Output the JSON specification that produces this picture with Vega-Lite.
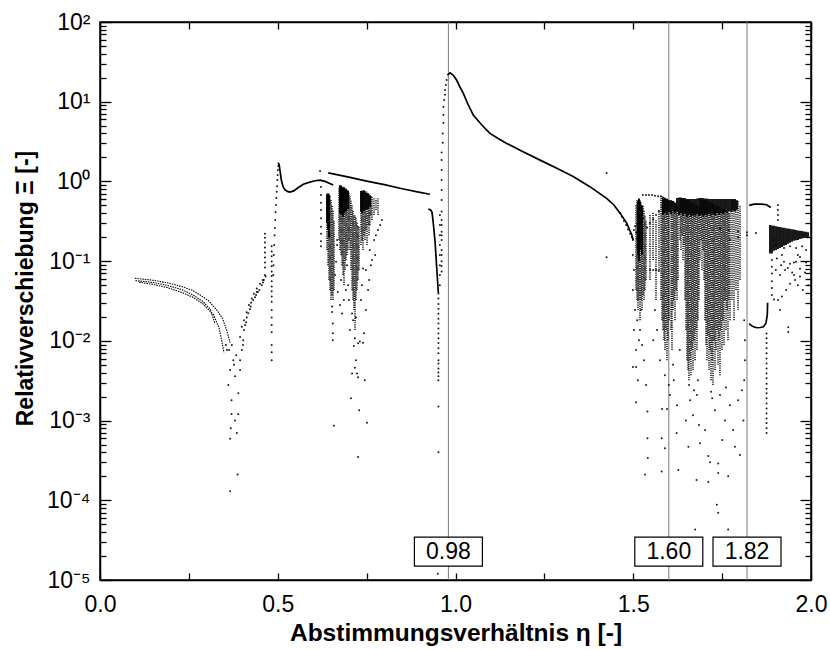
{
"$schema":"https://vega.github.io/schema/vega-lite/v6.json",
"width":711,"height":558,
"autosize":{"type":"none"},
"padding":{"left":100,"top":22,"right":19,"bottom":70},
"background":"white",
"config":{"view":{"stroke":"black","strokeWidth":1.5},
"axis":{"labelFont":"Liberation Sans","labelFontSize":23,"labelColor":"black","titleFont":"Liberation Sans","titleFontSize":23,"titleFontWeight":"bold","titleColor":"black","domainColor":"black","domainWidth":1.5,"tickColor":"black","tickWidth":1.3,"grid":false,"labelOverlap":false,"labelFlush":false}},
"datasets":{
"curves":[
{"b":"a","e":0.501,"s":1.72},{"b":"a","e":0.504,"s":1.62},{"b":"a","e":0.507,"s":1.3},{"b":"a","e":0.51,"s":1.05},{"b":"a","e":0.515,"s":0.86},{"b":"a","e":0.52,"s":0.79},{"b":"a","e":0.527,"s":0.75},{"b":"a","e":0.534,"s":0.735},{"b":"a","e":0.545,"s":0.76},{"b":"a","e":0.558,"s":0.84},{"b":"a","e":0.572,"s":0.92},{"b":"a","e":0.59,"s":0.98},{"b":"a","e":0.605,"s":1.02},{"b":"a","e":0.619,"s":1.04},{"b":"a","e":0.633,"s":1.0},{"b":"a","e":0.645,"s":0.95},{"b":"a","e":0.656,"s":0.9},
{"b":"b","e":0.642,"s":1.28},{"b":"b","e":0.7,"s":1.13},{"b":"b","e":0.75,"s":1.01},{"b":"b","e":0.8,"s":0.91},{"b":"b","e":0.85,"s":0.81},{"b":"b","e":0.9,"s":0.73},{"b":"b","e":0.928,"s":0.69},
{"b":"c","e":0.977,"s":21.6},{"b":"c","e":0.985,"s":23.1},{"b":"c","e":0.994,"s":21.5},{"b":"c","e":1.003,"s":18.7},{"b":"c","e":1.012,"s":15.5},{"b":"c","e":1.022,"s":12.7},{"b":"c","e":1.036,"s":9.1},{"b":"c","e":1.05,"s":6.8},{"b":"c","e":1.074,"s":5.1},{"b":"c","e":1.097,"s":4.0},{"b":"c","e":1.12,"s":3.45},{"b":"c","e":1.144,"s":3.0},{"b":"c","e":1.19,"s":2.36},{"b":"c","e":1.238,"s":1.85},{"b":"c","e":1.285,"s":1.46},{"b":"c","e":1.331,"s":1.15},{"b":"c","e":1.378,"s":0.86},{"b":"c","e":1.425,"s":0.614},{"b":"c","e":1.445,"s":0.51},{"b":"c","e":1.463,"s":0.4},{"b":"c","e":1.4815,"s":0.3},{"b":"c","e":1.496,"s":0.213},{"b":"c","e":1.5,"s":0.184},
{"b":"d","e":0.9235,"s":0.45},{"b":"d","e":0.93,"s":0.44},{"b":"d","e":0.934,"s":0.41},{"b":"d","e":0.9375,"s":0.3},{"b":"d","e":0.9423,"s":0.18},{"b":"d","e":0.947,"s":0.085},{"b":"d","e":0.9517,"s":0.04},
{"b":"e","e":1.826,"s":0.0165},{"b":"e","e":1.835,"s":0.0152},{"b":"e","e":1.847,"s":0.0146},{"b":"e","e":1.858,"s":0.0147},{"b":"e","e":1.866,"s":0.015},{"b":"e","e":1.873,"s":0.0165},{"b":"e","e":1.877,"s":0.021},{"b":"e","e":1.878,"s":0.03},
{"b":"f","e":1.826,"s":0.5},{"b":"f","e":1.84,"s":0.52},{"b":"f","e":1.86,"s":0.52},{"b":"f","e":1.875,"s":0.51},{"b":"f","e":1.887,"s":0.47}
],
"bands":[
{"b":"g1","e":0.098,"s":0.061},{"b":"g1","e":0.15,"s":0.0575},{"b":"g1","e":0.19,"s":0.0535},{"b":"g1","e":0.23,"s":0.048},{"b":"g1","e":0.26,"s":0.043},{"b":"g1","e":0.28,"s":0.038},{"b":"g1","e":0.305,"s":0.032},{"b":"g1","e":0.328,"s":0.0245},{"b":"g1","e":0.345,"s":0.019},{"b":"g1","e":0.356,"s":0.0137},{"b":"g1","e":0.366,"s":0.0095},
{"b":"g2","e":0.1,"s":0.057},{"b":"g2","e":0.15,"s":0.054},{"b":"g2","e":0.19,"s":0.0495},{"b":"g2","e":0.23,"s":0.044},{"b":"g2","e":0.26,"s":0.038},{"b":"g2","e":0.29,"s":0.031},{"b":"g2","e":0.31,"s":0.025},{"b":"g2","e":0.3235,"s":0.0165},
{"b":"g3","e":0.11,"s":0.0545},{"b":"g3","e":0.15,"s":0.051},{"b":"g3","e":0.19,"s":0.0465},{"b":"g3","e":0.23,"s":0.0405},{"b":"g3","e":0.26,"s":0.0355},{"b":"g3","e":0.29,"s":0.029},{"b":"g3","e":0.32,"s":0.021},{"b":"g3","e":0.335,"s":0.0145},{"b":"g3","e":0.349,"s":0.0071}
],
"streaks":[
{"e":0.6385,"lo":0.138,"hi":0.70},{"e":0.6414,"lo":0.089,"hi":0.72},{"e":0.6442,"lo":0.058,"hi":0.70},{"e":0.647,"lo":0.0434,"hi":0.675},{"e":0.6498,"lo":0.0325,"hi":0.585},{"e":0.6526,"lo":0.0376,"hi":0.506},{"e":0.6554,"lo":0.0325,"hi":0.438},{"e":0.6582,"lo":0.0434,"hi":0.328},
{"e":0.6723,"lo":0.184,"hi":0.85},{"e":0.6751,"lo":0.138,"hi":0.9},{"e":0.6779,"lo":0.119,"hi":0.9},{"e":0.6807,"lo":0.089,"hi":0.87},{"e":0.6835,"lo":0.067,"hi":0.85},{"e":0.6864,"lo":0.05,"hi":0.85},{"e":0.6892,"lo":0.0773,"hi":0.82},{"e":0.692,"lo":0.103,"hi":0.82},{"e":0.6948,"lo":0.119,"hi":0.8},{"e":0.6976,"lo":0.138,"hi":0.78},{"e":0.7004,"lo":0.184,"hi":0.74},
{"e":0.7032,"lo":0.138,"hi":0.65},{"e":0.706,"lo":0.0773,"hi":0.585},{"e":0.7089,"lo":0.0434,"hi":0.506},{"e":0.7117,"lo":0.0325,"hi":0.438},{"e":0.7145,"lo":0.0243,"hi":0.379},{"e":0.7173,"lo":0.0137,"hi":0.379},{"e":0.7201,"lo":0.0325,"hi":0.35},{"e":0.7229,"lo":0.0434,"hi":0.31},{"e":0.7257,"lo":0.058,"hi":0.284},{"e":0.7286,"lo":0.0773,"hi":0.275},
{"e":0.7342,"lo":0.159,"hi":0.78},{"e":0.737,"lo":0.184,"hi":0.78},{"e":0.7398,"lo":0.138,"hi":0.76},{"e":0.7426,"lo":0.212,"hi":0.78},{"e":0.7454,"lo":0.184,"hi":0.76},{"e":0.7482,"lo":0.245,"hi":0.74},{"e":0.7511,"lo":0.159,"hi":0.74},{"e":0.7539,"lo":0.284,"hi":0.72},{"e":0.7567,"lo":0.212,"hi":0.7},{"e":0.7595,"lo":0.284,"hi":0.675},{"e":0.7623,"lo":0.379,"hi":0.65},{"e":0.7651,"lo":0.328,"hi":0.65},{"e":0.7707,"lo":0.379,"hi":0.63},{"e":0.7764,"lo":0.438,"hi":0.61},{"e":0.782,"lo":0.379,"hi":0.61},
{"e":1.5077,"lo":0.0434,"hi":0.506},{"e":1.5105,"lo":0.0325,"hi":0.585},{"e":1.5134,"lo":0.0243,"hi":0.585},{"e":1.5162,"lo":0.0325,"hi":0.62},{"e":1.519,"lo":0.0182,"hi":0.585},{"e":1.5218,"lo":0.0325,"hi":0.55},{"e":1.5246,"lo":0.0243,"hi":0.506},{"e":1.5274,"lo":0.0376,"hi":0.506},{"e":1.5302,"lo":0.0325,"hi":0.438},{"e":1.533,"lo":0.0434,"hi":0.379},{"e":1.5359,"lo":0.058,"hi":0.328},
{"e":1.5471,"lo":0.058,"hi":0.379},{"e":1.5556,"lo":0.103,"hi":0.41},{"e":1.564,"lo":0.0325,"hi":0.328},{"e":1.5724,"lo":0.0773,"hi":0.438},
{"e":1.578,"lo":0.0325,"hi":0.63},{"e":1.5809,"lo":0.0182,"hi":0.65},{"e":1.5837,"lo":0.0137,"hi":0.65},{"e":1.5865,"lo":0.0102,"hi":0.63},{"e":1.5893,"lo":0.0077,"hi":0.63},{"e":1.5921,"lo":0.0137,"hi":0.61},{"e":1.5949,"lo":0.0057,"hi":0.61},{"e":1.5977,"lo":0.0102,"hi":0.6},{"e":1.6006,"lo":0.0182,"hi":0.585},{"e":1.6062,"lo":0.0137,"hi":0.585},{"e":1.609,"lo":0.0077,"hi":0.585},{"e":1.6118,"lo":0.0243,"hi":0.57},{"e":1.6146,"lo":0.0325,"hi":0.55},{"e":1.6174,"lo":0.0182,"hi":0.54},{"e":1.6203,"lo":0.0434,"hi":0.53},{"e":1.6231,"lo":0.0325,"hi":0.506},{"e":1.6259,"lo":0.058,"hi":0.49},
{"e":1.6315,"lo":0.184,"hi":0.61},{"e":1.6343,"lo":0.138,"hi":0.61},{"e":1.6371,"lo":0.212,"hi":0.6},{"e":1.64,"lo":0.103,"hi":0.6},{"e":1.6428,"lo":0.159,"hi":0.6},
{"e":1.6456,"lo":0.0325,"hi":0.585},{"e":1.6484,"lo":0.0137,"hi":0.585},{"e":1.6512,"lo":0.0057,"hi":0.585},{"e":1.654,"lo":0.0043,"hi":0.585},{"e":1.6568,"lo":0.0032,"hi":0.57},{"e":1.6596,"lo":0.0057,"hi":0.57},{"e":1.6624,"lo":0.0037,"hi":0.55},{"e":1.6653,"lo":0.0077,"hi":0.55},{"e":1.6681,"lo":0.0043,"hi":0.54},{"e":1.6709,"lo":0.0102,"hi":0.54},{"e":1.6737,"lo":0.0057,"hi":0.53},{"e":1.6765,"lo":0.0137,"hi":0.506},{"e":1.6793,"lo":0.0077,"hi":0.506},{"e":1.6821,"lo":0.0182,"hi":0.49},{"e":1.685,"lo":0.0325,"hi":0.49},
{"e":1.6878,"lo":0.103,"hi":0.6},{"e":1.6906,"lo":0.184,"hi":0.6},{"e":1.6934,"lo":0.0773,"hi":0.585},{"e":1.6962,"lo":0.138,"hi":0.585},{"e":1.699,"lo":0.058,"hi":0.585},
{"e":1.7018,"lo":0.0182,"hi":0.585},{"e":1.7046,"lo":0.0089,"hi":0.585},{"e":1.7075,"lo":0.0057,"hi":0.57},{"e":1.7103,"lo":0.0118,"hi":0.57},{"e":1.7131,"lo":0.0043,"hi":0.55},{"e":1.7159,"lo":0.0077,"hi":0.55},{"e":1.7187,"lo":0.0032,"hi":0.54},{"e":1.7215,"lo":0.0057,"hi":0.54},{"e":1.7243,"lo":0.0028,"hi":0.53},{"e":1.7271,"lo":0.0102,"hi":0.53},{"e":1.73,"lo":0.0043,"hi":0.506},{"e":1.7328,"lo":0.0077,"hi":0.506},{"e":1.7356,"lo":0.0137,"hi":0.49},{"e":1.7384,"lo":0.005,"hi":0.49},{"e":1.7412,"lo":0.0102,"hi":0.475},{"e":1.744,"lo":0.0037,"hi":0.475},{"e":1.7468,"lo":0.0137,"hi":0.46},{"e":1.7496,"lo":0.0077,"hi":0.46},{"e":1.7525,"lo":0.0182,"hi":0.45},{"e":1.7553,"lo":0.0089,"hi":0.45},{"e":1.7581,"lo":0.0325,"hi":0.438},{"e":1.7609,"lo":0.0137,"hi":0.438},{"e":1.7637,"lo":0.0243,"hi":0.425},{"e":1.7665,"lo":0.0102,"hi":0.425},{"e":1.7693,"lo":0.0325,"hi":0.41},{"e":1.7722,"lo":0.0182,"hi":0.41},
{"e":1.7778,"lo":0.0325,"hi":0.585},{"e":1.7834,"lo":0.0182,"hi":0.585},{"e":1.789,"lo":0.0434,"hi":0.585},{"e":1.7947,"lo":0.0243,"hi":0.585},{"e":1.8003,"lo":0.058,"hi":0.506}
],
"dense":[
{"e":0.6385,"lo":0.3,"hi":0.68},{"e":0.6414,"lo":0.25,"hi":0.7},{"e":0.6442,"lo":0.2,"hi":0.68},
{"e":0.6751,"lo":0.4,"hi":0.88},{"e":0.6779,"lo":0.38,"hi":0.88},{"e":0.6807,"lo":0.4,"hi":0.86},{"e":0.6835,"lo":0.36,"hi":0.84},{"e":0.6864,"lo":0.4,"hi":0.84},{"e":0.692,"lo":0.42,"hi":0.8},{"e":0.6976,"lo":0.45,"hi":0.76},
{"e":0.7342,"lo":0.42,"hi":0.76},{"e":0.737,"lo":0.4,"hi":0.76},{"e":0.7426,"lo":0.42,"hi":0.76},{"e":0.7482,"lo":0.44,"hi":0.72},{"e":0.7539,"lo":0.45,"hi":0.7},{"e":0.7595,"lo":0.48,"hi":0.66},
{"e":1.5134,"lo":0.12,"hi":0.56},{"e":1.5162,"lo":0.1,"hi":0.6},{"e":1.519,"lo":0.14,"hi":0.56},{"e":1.5246,"lo":0.12,"hi":0.5},
{"e":1.5837,"lo":0.38,"hi":0.63},{"e":1.5893,"lo":0.4,"hi":0.62},{"e":1.5949,"lo":0.38,"hi":0.6},{"e":1.6006,"lo":0.41,"hi":0.58},{"e":1.6062,"lo":0.39,"hi":0.58},{"e":1.6118,"lo":0.42,"hi":0.57},{"e":1.6174,"lo":0.4,"hi":0.54},{"e":1.6231,"lo":0.42,"hi":0.62},{"e":1.6287,"lo":0.38,"hi":0.63},{"e":1.6343,"lo":0.4,"hi":0.63},{"e":1.64,"lo":0.37,"hi":0.62},{"e":1.6456,"lo":0.39,"hi":0.62},{"e":1.6512,"lo":0.36,"hi":0.6},{"e":1.6568,"lo":0.38,"hi":0.6},{"e":1.6624,"lo":0.36,"hi":0.6},{"e":1.6681,"lo":0.38,"hi":0.6},{"e":1.6737,"lo":0.37,"hi":0.6},{"e":1.6793,"lo":0.39,"hi":0.61},{"e":1.685,"lo":0.37,"hi":0.62},{"e":1.6906,"lo":0.38,"hi":0.62},{"e":1.6962,"lo":0.36,"hi":0.62},{"e":1.7018,"lo":0.38,"hi":0.61},{"e":1.7075,"lo":0.37,"hi":0.61},{"e":1.7131,"lo":0.39,"hi":0.6},{"e":1.7187,"lo":0.37,"hi":0.6},{"e":1.7243,"lo":0.39,"hi":0.6},{"e":1.73,"lo":0.38,"hi":0.6},{"e":1.7356,"lo":0.4,"hi":0.6},{"e":1.7412,"lo":0.38,"hi":0.6},{"e":1.7468,"lo":0.4,"hi":0.6},{"e":1.7525,"lo":0.39,"hi":0.6},{"e":1.7581,"lo":0.41,"hi":0.6},{"e":1.7637,"lo":0.4,"hi":0.6},{"e":1.7693,"lo":0.42,"hi":0.6},{"e":1.775,"lo":0.41,"hi":0.6},{"e":1.7806,"lo":0.43,"hi":0.6},{"e":1.7862,"lo":0.42,"hi":0.6},{"e":1.7918,"lo":0.44,"hi":0.58},
{"e":1.8847,"lo":0.125,"hi":0.284},{"e":1.8903,"lo":0.13,"hi":0.28},{"e":1.8959,"lo":0.135,"hi":0.277},{"e":1.9016,"lo":0.138,"hi":0.274},{"e":1.9072,"lo":0.142,"hi":0.27},{"e":1.9128,"lo":0.146,"hi":0.268},{"e":1.9184,"lo":0.151,"hi":0.265},{"e":1.924,"lo":0.156,"hi":0.262},{"e":1.9297,"lo":0.159,"hi":0.259},{"e":1.9353,"lo":0.165,"hi":0.257},{"e":1.9409,"lo":0.17,"hi":0.254},{"e":1.9466,"lo":0.175,"hi":0.251},{"e":1.9522,"lo":0.18,"hi":0.249},{"e":1.9578,"lo":0.183,"hi":0.246},{"e":1.9634,"lo":0.184,"hi":0.243},{"e":1.969,"lo":0.19,"hi":0.241},{"e":1.9747,"lo":0.193,"hi":0.238},{"e":1.9803,"lo":0.195,"hi":0.236},{"e":1.9859,"lo":0.198,"hi":0.234},{"e":1.9916,"lo":0.2,"hi":0.231}
],
"dots":[
{"e":0.361,"s":0.0028},{"e":0.37,"s":0.00121},{"e":0.366,"s":0.00059},{"e":0.385,"s":0.0007},{"e":0.375,"s":0.0057},{"e":0.38,"s":0.0036},{"e":0.394,"s":0.0043},{"e":0.389,"s":0.0022},{"e":0.389,"s":0.0012},{"e":0.38,"s":0.001},{"e":0.37,"s":0.0018},{"e":0.366,"s":0.00013},{"e":0.387,"s":0.00021},{"e":0.368,"s":0.0008},{"e":0.363,"s":0.0077},{"e":0.371,"s":0.0089},{"e":0.383,"s":0.0066},{"e":0.377,"s":0.005},{"e":0.366,"s":0.0043},{"e":0.357,"s":0.0077},{"e":0.354,"s":0.0089},
{"e":0.394,"s":0.0057},{"e":0.399,"s":0.0077},{"e":0.403,"s":0.0102},{"e":0.405,"s":0.0137},{"e":0.411,"s":0.0171},{"e":0.417,"s":0.0222},{"e":0.424,"s":0.027},{"e":0.431,"s":0.0325},{"e":0.439,"s":0.0376},{"e":0.448,"s":0.0434},{"e":0.455,"s":0.05},{"e":0.461,"s":0.058},{"e":0.466,"s":0.064},
{"e":0.394,"s":0.0112},{"e":0.399,"s":0.015},{"e":0.405,"s":0.0182},{"e":0.4125,"s":0.0228},{"e":0.419,"s":0.0281},{"e":0.427,"s":0.034},{"e":0.433,"s":0.039},{"e":0.441,"s":0.0455},{"e":0.45,"s":0.052},{"e":0.458,"s":0.058},{"e":0.464,"s":0.067},
{"e":0.402,"s":0.0089},{"e":0.408,"s":0.0158},{"e":0.413,"s":0.0196},{"e":0.425,"s":0.03},{"e":0.436,"s":0.0353},{"e":0.444,"s":0.041},{"e":0.4585,"s":0.054},{"e":0.422,"s":0.025},{"e":0.4415,"s":0.041},
{"e":0.464,"s":0.22},{"e":0.464,"s":0.197},{"e":0.464,"s":0.171},{"e":0.464,"s":0.148},{"e":0.464,"s":0.128},{"e":0.464,"s":0.111},{"e":0.464,"s":0.096},{"e":0.464,"s":0.083},
{"e":0.483,"s":0.154},{"e":0.483,"s":0.132},{"e":0.483,"s":0.115},{"e":0.483,"s":0.099},{"e":0.483,"s":0.086},{"e":0.483,"s":0.074},{"e":0.483,"s":0.065},{"e":0.483,"s":0.056},{"e":0.483,"s":0.048},{"e":0.483,"s":0.042},{"e":0.483,"s":0.036},{"e":0.483,"s":0.031},{"e":0.483,"s":0.0243},{"e":0.483,"s":0.0196},{"e":0.483,"s":0.0158},{"e":0.483,"s":0.0128},{"e":0.483,"s":0.00885},{"e":0.483,"s":0.0072},{"e":0.483,"s":0.0057},
{"e":0.4875,"s":0.067},{"e":0.488,"s":0.089},{"e":0.489,"s":0.119},{"e":0.49,"s":0.159},{"e":0.491,"s":0.212},{"e":0.492,"s":0.26},{"e":0.493,"s":0.328},{"e":0.494,"s":0.41},{"e":0.495,"s":0.506},{"e":0.496,"s":0.62},{"e":0.497,"s":0.74},{"e":0.498,"s":0.87},{"e":0.4988,"s":1.04},{"e":0.4997,"s":1.2},{"e":0.5007,"s":1.39},{"e":0.5015,"s":1.56},
{"e":0.619,"s":1.35},{"e":0.6217,"s":0.85},{"e":0.6217,"s":0.675},{"e":0.6217,"s":0.54},{"e":0.6217,"s":0.438},{"e":0.6217,"s":0.345},{"e":0.6217,"s":0.27},{"e":0.6217,"s":0.22},{"e":0.6217,"s":0.178},{"e":0.6217,"s":0.154},
{"e":0.655,"s":0.0165},{"e":0.655,"s":0.0125},{"e":0.655,"s":0.0102},{"e":0.653,"s":0.027},{"e":0.653,"s":0.023},{"e":0.658,"s":0.00086},{"e":0.667,"s":0.184},{"e":0.667,"s":0.159},{"e":0.681,"s":0.022},{"e":0.686,"s":0.0325},{"e":0.692,"s":0.0434},{"e":0.678,"s":0.058},{"e":0.703,"s":0.0137},{"e":0.709,"s":0.022},{"e":0.712,"s":0.0182},{"e":0.714,"s":0.0086},{"e":0.717,"s":0.0108},{"e":0.72,"s":0.0057},{"e":0.723,"s":0.0039},{"e":0.709,"s":0.0039},{"e":0.717,"s":0.0046},{"e":0.726,"s":0.0035},{"e":0.726,"s":0.0093},{"e":0.731,"s":0.0098},{"e":0.74,"s":0.0095},{"e":0.745,"s":0.0032},{"e":0.706,"s":0.0019},{"e":0.729,"s":0.00135},{"e":0.751,"s":0.00094},{"e":0.726,"s":0.00035},{"e":0.743,"s":0.0125},{"e":0.748,"s":0.0243},{"e":0.754,"s":0.0434},{"e":0.748,"s":0.0773},{"e":0.757,"s":0.058},{"e":0.765,"s":0.103},{"e":0.759,"s":0.138},{"e":0.771,"s":0.184},{"e":0.776,"s":0.212},{"e":0.782,"s":0.245},{"e":0.788,"s":0.284},{"e":0.793,"s":0.328},{"e":0.774,"s":0.119},
{"e":0.669,"s":0.041},{"e":0.675,"s":0.0281},{"e":0.698,"s":0.05},{"e":0.7,"s":0.0325},{"e":0.72,"s":0.0196},{"e":0.734,"s":0.0325},{"e":0.737,"s":0.05},{"e":0.762,"s":0.089},{"e":0.74,"s":0.081},{"e":0.695,"s":0.089},{"e":0.661,"s":0.067},{"e":0.664,"s":0.098},
{"e":0.961,"s":2.3},{"e":0.961,"s":1.86},{"e":0.961,"s":1.39},{"e":0.961,"s":1.04},{"e":0.961,"s":0.78},{"e":0.961,"s":0.585},{"e":0.961,"s":0.42},{"e":0.961,"s":0.328},{"e":0.961,"s":0.284},{"e":0.961,"s":0.233},{"e":0.961,"s":0.212},{"e":0.961,"s":0.184},{"e":0.961,"s":0.138},{"e":0.961,"s":0.119},{"e":0.961,"s":0.1},{"e":0.961,"s":0.087},{"e":0.961,"s":0.074},
{"e":0.964,"s":4.0},{"e":0.964,"s":3.05},{"e":0.966,"s":5.4},{"e":0.966,"s":6.8},{"e":0.966,"s":8.6},{"e":0.968,"s":10.5},{"e":0.9705,"s":12.2},{"e":0.9705,"s":14.0},{"e":0.973,"s":16.2},{"e":0.975,"s":18.7},
{"e":0.952,"s":0.0394},{"e":0.952,"s":0.034},{"e":0.952,"s":0.029},{"e":0.952,"s":0.0253},{"e":0.952,"s":0.0219},{"e":0.952,"s":0.019},{"e":0.952,"s":0.0165},{"e":0.952,"s":0.0143},{"e":0.952,"s":0.0124},{"e":0.952,"s":0.0108},{"e":0.952,"s":0.0094},{"e":0.952,"s":0.0081},{"e":0.952,"s":0.007},{"e":0.952,"s":0.0057},{"e":0.952,"s":0.0052},{"e":0.952,"s":0.0045},{"e":0.952,"s":0.004},{"e":0.952,"s":0.0036},{"e":0.952,"s":0.0032},
{"e":0.956,"s":0.379},{"e":0.956,"s":0.284},{"e":0.956,"s":0.212},{"e":0.956,"s":0.159},{"e":0.956,"s":0.119},{"e":0.956,"s":0.089},{"e":0.956,"s":0.067},{"e":0.956,"s":0.05},
{"e":0.952,"s":0.0015},{"e":0.952,"s":0.0004},{"e":0.95,"s":0.000012},
{"e":1.425,"s":1.28},{"e":1.425,"s":0.112},
{"e":1.463,"s":0.4},{"e":1.468,"s":0.36},{"e":1.474,"s":0.32},{"e":1.48,"s":0.284},{"e":1.485,"s":0.25},{"e":1.491,"s":0.22},{"e":1.496,"s":0.2},{"e":1.502,"s":0.245},{"e":1.505,"s":0.275},{"e":1.508,"s":0.23},{"e":1.511,"s":0.19},{"e":1.516,"s":0.26},{"e":1.522,"s":0.31},{"e":1.527,"s":0.345},
{"e":1.499,"s":0.184},{"e":1.499,"s":0.119},{"e":1.502,"s":0.0773},{"e":1.499,"s":0.0434},{"e":1.505,"s":0.0243},{"e":1.502,"s":0.0137},{"e":1.508,"s":0.0077},{"e":1.499,"s":0.0047},{"e":1.508,"s":0.0047},{"e":1.508,"s":0.0017},{"e":1.54,"s":0.0013},{"e":1.54,"s":0.0006},{"e":1.541,"s":0.00034},{"e":1.533,"s":0.00021},{"e":1.519,"s":0.0137},{"e":1.525,"s":0.0089},{"e":1.53,"s":0.0057},{"e":1.536,"s":0.0028},{"e":1.513,"s":0.0032},{"e":1.511,"s":0.0182},{"e":1.516,"s":0.0102},{"e":1.522,"s":0.0243},
{"e":1.527,"s":0.675},{"e":1.536,"s":0.675},{"e":1.544,"s":0.675},{"e":1.553,"s":0.675},{"e":1.561,"s":0.66},{"e":1.57,"s":0.65},{"e":1.578,"s":0.65},
{"e":1.539,"s":0.265},{"e":1.547,"s":0.3},{"e":1.556,"s":0.335},{"e":1.564,"s":0.379},{"e":1.572,"s":0.425},{"e":1.581,"s":0.47},
{"e":1.547,"s":0.0773},{"e":1.556,"s":0.0773},{"e":1.564,"s":0.0773},{"e":1.572,"s":0.075},
{"e":1.58,"s":0.00023},{"e":1.58,"s":0.0006},{"e":1.589,"s":0.00045},{"e":1.627,"s":0.00024},{"e":1.622,"s":0.0007},{"e":1.581,"s":0.0014},{"e":1.595,"s":0.0014},{"e":1.603,"s":0.0021},{"e":1.614,"s":0.0032},{"e":1.623,"s":0.00156},{"e":1.589,"s":0.0037},{"e":1.6,"s":0.0028},{"e":1.612,"s":0.005},{"e":1.631,"s":0.0077},{"e":1.575,"s":0.0057},{"e":1.567,"s":0.0137},{"e":1.561,"s":0.0243},{"e":1.556,"s":0.0102},
{"e":1.655,"s":0.00047},{"e":1.678,"s":0.00018},{"e":1.688,"s":0.00052},{"e":1.674,"s":0.000043},{"e":1.648,"s":0.001},{"e":1.66,"s":0.0018},{"e":1.668,"s":0.00117},{"e":1.679,"s":0.0021},{"e":1.685,"s":0.00088},{"e":1.657,"s":0.0028},{"e":1.671,"s":0.0024},{"e":1.682,"s":0.0032},
{"e":1.711,"s":0.00017},{"e":1.711,"s":0.00036},{"e":1.716,"s":0.0003},{"e":1.739,"s":0.00029},{"e":1.739,"s":0.00022},{"e":1.735,"s":0.000088},{"e":1.739,"s":0.00007},{"e":1.767,"s":0.000043},{"e":1.767,"s":0.0002},{"e":1.786,"s":0.00047},{"e":1.8,"s":0.00037},{"e":1.81,"s":0.001},{"e":1.795,"s":0.0018},{"e":1.806,"s":0.0024},{"e":1.73,"s":0.00135},{"e":1.722,"s":0.0019},{"e":1.744,"s":0.0021},{"e":1.758,"s":0.001},{"e":1.772,"s":0.00156},{"e":1.702,"s":0.00076},{"e":1.75,"s":0.00057},{"e":1.781,"s":0.00076},{"e":1.812,"s":0.0032},{"e":1.814,"s":0.0057},{"e":1.814,"s":0.0102},{"e":1.812,"s":0.0182},{"e":1.761,"s":0.0026},{"e":1.719,"s":0.0023},
{"e":1.744,"s":0.255},{"e":1.769,"s":0.245},{"e":1.795,"s":0.235},{"e":1.82,"s":0.23},{"e":1.845,"s":0.225},{"e":1.82,"s":0.212},{"e":1.795,"s":0.2},{"e":1.772,"s":0.184},
{"e":1.875,"s":0.0124},{"e":1.875,"s":0.0108},{"e":1.875,"s":0.0094},{"e":1.875,"s":0.0081},{"e":1.875,"s":0.007},{"e":1.875,"s":0.006},{"e":1.875,"s":0.0052},{"e":1.875,"s":0.0045},{"e":1.875,"s":0.0039},{"e":1.875,"s":0.0034},{"e":1.875,"s":0.0029},{"e":1.875,"s":0.0025},{"e":1.875,"s":0.0022},{"e":1.875,"s":0.0019},{"e":1.875,"s":0.00164},{"e":1.875,"s":0.00142},{"e":1.875,"s":0.00123},{"e":1.875,"s":0.00106},{"e":1.875,"s":0.00093},{"e":1.875,"s":0.0008},{"e":1.875,"s":0.0007},
{"e":1.907,"s":0.506},{"e":1.907,"s":0.438},{"e":1.907,"s":0.379},{"e":1.907,"s":0.328},
{"e":1.918,"s":0.119},{"e":1.924,"s":0.146},{"e":1.941,"s":0.154},{"e":1.958,"s":0.146},{"e":1.963,"s":0.119},{"e":1.958,"s":0.098},{"e":1.941,"s":0.093},{"e":1.924,"s":0.098},{"e":1.952,"s":0.096},{"e":1.969,"s":0.113},{"e":1.986,"s":0.096},{"e":1.969,"s":0.08},
{"e":1.89,"s":0.127},{"e":1.89,"s":0.103},{"e":1.89,"s":0.085},{"e":1.89,"s":0.07},{"e":1.89,"s":0.056},{"e":1.89,"s":0.046},{"e":1.89,"s":0.0376},{"e":1.896,"s":0.033},{"e":1.907,"s":0.0325},{"e":1.918,"s":0.036},{"e":1.93,"s":0.0434},{"e":1.941,"s":0.052},{"e":1.955,"s":0.058},{"e":1.969,"s":0.064},{"e":1.983,"s":0.072},{"e":1.977,"s":0.0434},{"e":1.992,"s":0.05},{"e":1.901,"s":0.0773},{"e":1.913,"s":0.067},{"e":1.927,"s":0.0773},{"e":1.947,"s":0.072},{"e":1.963,"s":0.05},{"e":1.904,"s":0.108},{"e":1.916,"s":0.089},{"e":1.935,"s":0.082},{"e":1.952,"s":0.067},{"e":1.986,"s":0.138},{"e":1.975,"s":0.154},{"e":1.901,"s":0.159},{"e":1.896,"s":0.184},
{"e":1.936,"s":0.0148},{"e":1.936,"s":0.0129},{"e":1.913,"s":0.0243}
],
"marks":[{"e":0.98,"t":"0.98"},{"e":1.6,"t":"1.60"},{"e":1.82,"t":"1.82"}]
},
"layer":[
{"data":{"name":"marks"},"mark":{"type":"rule","color":"#7a7a7a","strokeWidth":1},
"encoding":{"x":{"field":"e","type":"quantitative","scale":{"domain":[0,2],"nice":false,"zero":false,"padding":0},
"axis":{"orient":"bottom","values":[0,0.25,0.5,0.75,1,1.25,1.5,1.75,2],"labelExpr":"datum.value % 0.5 == 0 ? format(datum.value, '.1f') : ''","tickSize":-7,"labelPadding":20,"labelFlush":false,"title":"Abstimmungsverhältnis η [-]","titleFontSize":24.5,"titleX":355.5,"titleY":53,"titleBaseline":"middle","titleAlign":"center"}}}},
{"data":{"name":"bands"},"mark":{"type":"line","color":"black","strokeWidth":1.1,"strokeDash":[1.5,1]},
"encoding":{"x":{"field":"e","type":"quantitative","scale":{"domain":[0,2],"nice":false,"zero":false,"padding":0},
"axis":{"orient":"top","values":[0,0.25,0.5,0.75,1,1.25,1.5,1.75,2],"labels":false,"tickSize":-7,"title":null}},
"y":{"field":"s","type":"quantitative","scale":{"type":"log","domain":[0.00001,100],"nice":false,"padding":0},
"axis":{"orient":"left","values":[0.00001,0.00002,0.00003,0.00004,0.00005,0.00006,0.00007,0.00008,0.00009,0.0001,0.0002,0.0003,0.0004,0.0005,0.0006,0.0007,0.0008,0.0009,0.001,0.002,0.003,0.004,0.005,0.006,0.007,0.008,0.009,0.01,0.02,0.03,0.04,0.05,0.06,0.07,0.08,0.09,0.1,0.2,0.3,0.4,0.5,0.6,0.7,0.8,0.9,1,2,3,4,5,6,7,8,9,10,20,30,40,50,60,70,80,90,100],
"labelExpr":"abs(log(datum.value)/LN10 - round(log(datum.value)/LN10)) < 0.000001 ? '10' + ['⁻⁵','⁻⁴','⁻³','⁻²','⁻¹','⁰','¹','²'][round(log(datum.value)/LN10) + 5] : ''",
"tickSize":{"condition":{"test":"abs(log(datum.value)/LN10 - round(log(datum.value)/LN10)) < 0.000001","value":-11},"value":-6},"labelPadding":21,"title":"Relativverschiebung Ξ [-]","titleX":-75,"titleY":266,"titleAngle":-90,"titleBaseline":"middle","titleAlign":"center"}},
"detail":{"field":"b"}}},
{"data":{"name":"curves"},"mark":{"type":"line","color":"black","strokeWidth":1.7},
"encoding":{"x":{"field":"e","type":"quantitative","scale":{"domain":[0,2],"nice":false,"zero":false,"padding":0},"axis":null},
"y":{"field":"s","type":"quantitative","scale":{"type":"log","domain":[0.00001,100],"nice":false,"padding":0},
"axis":{"orient":"right","values":[0.00001,0.00002,0.00003,0.00004,0.00005,0.00006,0.00007,0.00008,0.00009,0.0001,0.0002,0.0003,0.0004,0.0005,0.0006,0.0007,0.0008,0.0009,0.001,0.002,0.003,0.004,0.005,0.006,0.007,0.008,0.009,0.01,0.02,0.03,0.04,0.05,0.06,0.07,0.08,0.09,0.1,0.2,0.3,0.4,0.5,0.6,0.7,0.8,0.9,1,2,3,4,5,6,7,8,9,10,20,30,40,50,60,70,80,90,100],"labels":false,"title":null,
"tickSize":{"condition":{"test":"abs(log(datum.value)/LN10 - round(log(datum.value)/LN10)) < 0.000001","value":-11},"value":-6}}},
"detail":{"field":"b"}}},
{"data":{"name":"streaks"},"mark":{"type":"rule","color":"black","strokeWidth":1.4,"strokeDash":[1.2,1],"opacity":1},
"encoding":{"x":{"field":"e","type":"quantitative","axis":null},"y":{"field":"lo","type":"quantitative","axis":null},"y2":{"field":"hi"}}},
{"data":{"name":"dense"},"mark":{"type":"rule","color":"black","strokeWidth":1.8,"opacity":1},
"encoding":{"x":{"field":"e","type":"quantitative","axis":null},"y":{"field":"lo","type":"quantitative","axis":null},"y2":{"field":"hi"}}},
{"data":{"name":"dots"},"mark":{"type":"point","filled":true,"color":"black","size":4,"opacity":0.9},
"encoding":{"x":{"field":"e","type":"quantitative","axis":null},"y":{"field":"s","type":"quantitative","axis":null}}},
{"data":{"name":"marks"},"mark":{"type":"point","shape":"M-1,-0.4265L1,-0.4265L1,0.4265L-1,0.4265Z","size":4624,"fill":"white","stroke":"black","strokeWidth":1.2,"fillOpacity":1,"opacity":1},
"encoding":{"x":{"field":"e","type":"quantitative","axis":null},"y":{"datum":0.0000227,"type":"quantitative","axis":null}}},
{"data":{"name":"marks"},"mark":{"type":"text","font":"Liberation Sans","fontSize":23,"color":"black","align":"center","baseline":"middle"},
"encoding":{"x":{"field":"e","type":"quantitative","axis":null},"y":{"datum":0.0000227,"type":"quantitative","axis":null},"text":{"field":"t"}}}
],
"resolve":{"axis":{"x":"independent","y":"independent"}}
}
